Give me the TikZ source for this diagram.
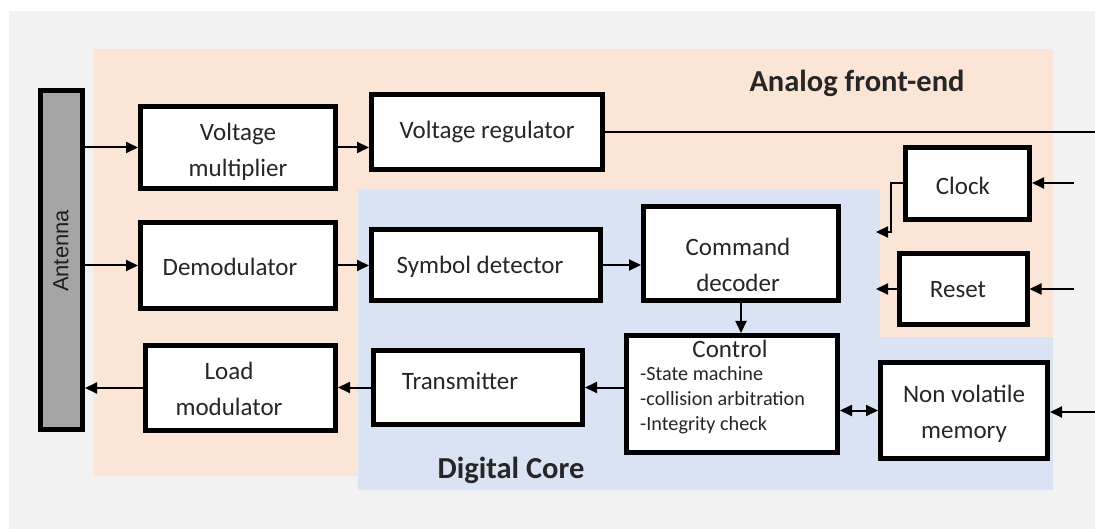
\documentclass[tikz,border=0pt]{standalone}
\usepackage{fontspec}
\setmainfont{Carlito}
\newfontfamily\antfont{Liberation Sans}
\usetikzlibrary{arrows.meta,calc}
\definecolor{bggray}{HTML}{F2F2F2}
\definecolor{afe}{HTML}{FBE5D6}
\definecolor{dcore}{HTML}{DAE3F3}
\definecolor{antgray}{HTML}{A5A5A5}
\definecolor{txt}{HTML}{262626}
\tikzset{
  blk/.style={draw=black, line width=5pt, fill=white, text=txt, align=center,
    font=\fontsize{25}{36}\selectfont, inner sep=0pt},
  lbl/.style={text=txt, align=center, font=\fontsize{25}{36}\selectfont, inner sep=0pt},
  arr/.style={line width=2pt, -{Triangle[length=12pt,width=11pt]}},
  darr/.style={line width=2pt, {Triangle[length=12pt,width=11pt]}-{Triangle[length=12pt,width=11pt]}},
  plain/.style={line width=2pt},
  region/.style={font=\bfseries\fontsize{30.5}{32}\selectfont, text=txt},
}
\begin{document}
\begin{tikzpicture}[x=1pt,y=-1pt]
\useasboundingbox (0,0) rectangle (1095,529);
% backgrounds
\fill[white] (0,0) rectangle (1095,529);
\fill[bggray] (9,11) rectangle (1095,529);
\fill[afe] (93,49) rectangle (1053,476);
\fill[dcore] (358,190) -- (880,190) -- (880,337) -- (1053,337) -- (1053,490) -- (358,490) -- cycle;
% region labels
\node[region] (afelbl) at (857,83) {Analog front-end};
\node[region] (dclbl) at (511,470) {Digital Core};
% antenna
\node[draw=black, line width=5pt, fill=antgray, minimum width=42pt, minimum height=339pt, inner sep=0pt] (ant) at (61.5,260) {};
\node[rotate=90, font=\antfont\fontsize{22}{24}\selectfont, text=black!88] (antlbl) at (61,251) {Antenna};
% blocks
\node[blk, minimum width=195pt, minimum height=82pt] (vm) at (238,147.5) {};
\node[lbl] (vmlbl) at (238,152) {Voltage\\multiplier};
\node[blk, minimum width=231pt, minimum height=75pt] (vr) at (487,132) {Voltage regulator};
\node[blk, minimum width=124pt, minimum height=72pt] (clk) at (967.5,183.5) {};
\node[lbl] (clklbl) at (963,186) {Clock};
\node[blk, minimum width=128pt, minimum height=71pt] (rst) at (963,289.5) {};
\node[lbl] (rstlbl) at (958,290) {Reset};
\node[blk, minimum width=195pt, minimum height=86pt] (dem) at (238,265.5) {};
\node[lbl] (demlbl) at (230,267) {Demodulator};
\node[blk, minimum width=229pt, minimum height=71pt] (sd) at (486,265) {};
\node[lbl] (sdlbl) at (480,267) {Symbol detector};
\node[blk, minimum width=195pt, minimum height=94pt] (cd) at (741,253.5) {};
\node[lbl] (cdlbl) at (738,265) {Command\\decoder};
\node[blk, minimum width=211pt, minimum height=117pt] (ctl) at (732,394) {};
\node[lbl] (ctltitle) at (730,349) {Control};
\node[text=txt, font=\fontsize{20.2}{25}\selectfont, align=left, anchor=west, inner sep=0pt] (ctllist) at (640,400) {-State machine\\-collision arbitration\\-Integrity check};
\node[blk, minimum width=167pt, minimum height=96pt] (nvm) at (964,410.5) {};
\node[lbl] (nvmlbl) at (964,414) {Non volatile\\memory};
\node[blk, minimum width=209pt, minimum height=74pt] (tr) at (478,387.5) {};
\node[lbl] (trlbl) at (460,381) {Transmitter};
\node[blk, minimum width=190pt, minimum height=85pt] (lm) at (240.5,388) {};
\node[lbl] (lmlbl) at (229,389) {Load\\modulator};
% free-end coordinates
\coordinate (vrout) at (1095,132);
\coordinate (clkin) at (1074,183);
\coordinate (rstin) at (1074,289);
\coordinate (nvmin) at (1095,412);
\coordinate (clkbend) at (891,232);
\coordinate (clkout) at (876,232);
\coordinate (rstout) at (876,289);
% connectors
\draw[arr] (ant.east |- vm.west) -- (vm.west);
\draw[arr] (vm.east) -- (vm.east -| vr.west);
\draw[plain] (vr.east) -- (vrout);
\draw[arr] (ant.east |- dem.west) -- (dem.west);
\draw[arr] (dem.east) -- (dem.east -| sd.west);
\draw[arr] (sd.east) -- (sd.east -| cd.west);
\draw[arr] (cd.south) -- (cd.south |- ctl.north);
\draw[arr] (ctl.west |- tr.east) -- (tr.east);
\draw[arr] (tr.west) -- (tr.west -| lm.east);
\draw[arr] (lm.west) -- (lm.west -| ant.east);
\draw[darr] (ctl.east |- nvm.west) -- (nvm.west);
\draw[arr] (nvmin) -- (nvmin -| nvm.east);
\draw[arr] (clkin) -- (clkin -| clk.east);
\draw[arr] (rstin) -- (rstin -| rst.east);
\draw[arr] (clk.west) -| (clkbend) -- (clkout);
\draw[arr] (rst.west |- rstout) -- (rstout);
\end{tikzpicture}
\end{document}
